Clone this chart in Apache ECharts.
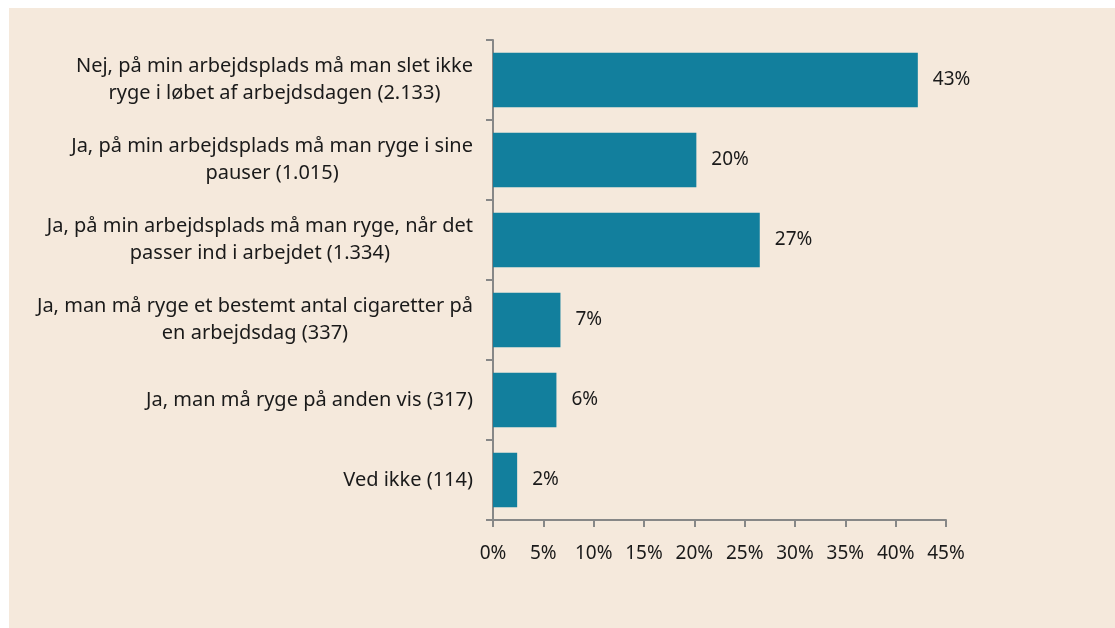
<!DOCTYPE html>
<html>
<head>
<meta charset="utf-8">
<script src="https://cdn.jsdelivr.net/npm/echarts@6/dist/echarts.min.js"></script>
<style>
  html, body { margin: 0; padding: 0; background: #ffffff; }
  #chart { position: absolute; left: 9px; top: 8px; width: 1106px; height: 620px; background: #f5e9dc; }
</style>
</head>
<body>
<div id="chart"></div>
<script>
const categories = [
  'Nej, på min arbejdsplads må man slet ikke\nryge i løbet af arbejdsdagen (2.133)',
  'Ja, på min arbejdsplads må man ryge i sine\npauser (1.015)',
  'Ja, på min arbejdsplads må man ryge, når det\npasser ind i arbejdet (1.334)',
  'Ja, man må ryge et bestemt antal cigaretter på\nen arbejdsdag (337)',
  'Ja, man må ryge på anden vis (317)',
  'Ved ikke (114)'
]
const values = [42.2, 20.2, 26.5, 6.7, 6.3, 2.4]
const valueLabels = ['43%', '20%', '27%', '7%', '6%', '2%']

const chart = echarts.init(document.getElementById('chart'))
const font = 'Noto Sans'
const ink = '#1a1a1a'
const axisGray = '#878787'

chart.setOption({
  animation: false,
  grid: { left: 484, right: 169, top: 32, bottom: 108 },
  xAxis: {
    type: 'value',
    min: 0,
    max: 45,
    interval: 5,
    axisLine: { show: true, lineStyle: { color: axisGray, width: 2 } },
    axisTick: { show: true, length: 7, lineStyle: { color: axisGray, width: 2 } },
    splitLine: { show: false },
    axisLabel: {
      color: ink, fontFamily: font, fontSize: 19, margin: 24,
      formatter: (v) => v + '%'
    }
  },
  yAxis: {
    type: 'category',
    inverse: true,
    data: categories,
    axisLine: { show: true, lineStyle: { color: axisGray, width: 2 } },
    axisTick: { show: true, length: 7, lineStyle: { color: axisGray, width: 2 } },
    axisLabel: {
      color: ink, fontFamily: font, fontSize: 20, margin: 20, lineHeight: 27,
      formatter: (v) => v.split('\n').map((s) => '{c|' + s + '}').join('\n'),
      rich: { c: { align: 'center', color: ink, fontFamily: font, fontSize: 20, lineHeight: 27 } }
    }
  },
  series: [
    {
      type: 'bar',
      data: values,
      barWidth: '68%',
      itemStyle: { color: '#127f9d' },
      label: {
        show: true,
        position: 'right',
        distance: 15,
        color: ink,
        fontFamily: font,
        fontSize: 19,
        formatter: (p) => valueLabels[p.dataIndex]
      }
    }
  ]
})
</script>
</body>
</html>
